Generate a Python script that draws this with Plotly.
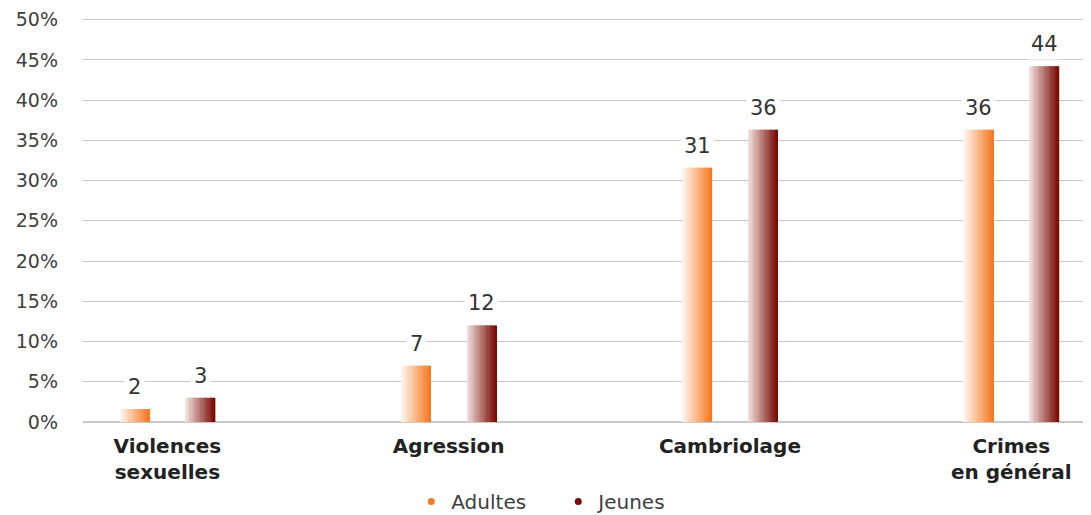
import plotly.graph_objects as go

categories = ["Violences<br>sexuelles", "Agression", "Cambriolage", "Crimes<br>en général"]
adultes = [1.6, 7.0, 31.6, 36.3]
jeunes = [3.0, 12.0, 36.3, 44.2]
adultes_labels = ["2", "7", "31", "36"]
jeunes_labels = ["3", "12", "36", "44"]
series_names = ["Adultes", "Jeunes"]
y_ticks = list(range(0, 51, 5))
y_tick_text = [f"{v}%" for v in y_ticks]

FONT = "DejaVu Sans, Arial, sans-serif"

def lerp(c1, c2, t):
    return "rgb(%d,%d,%d)" % tuple(round(a + (b - a) * t) for a, b in zip(c1, c2))

fig = go.Figure()
N = 24
bar_w = 0.104
px_per_unit = 1007 / 3.58
series = [
    (adultes, adultes_labels, -0.168, (255, 248, 242), (244, 120, 32)),
    (jeunes, jeunes_labels, 0.066, (242, 228, 224), (120, 6, 0)),
]
for vals, labs, off, c_light, c_dark in series:
    for i in range(N):
        t = (i + 0.5) / N
        fig.add_trace(go.Bar(
            x=categories, y=vals, width=bar_w / N + 0.0006,
            offset=off + i * bar_w / N,
            marker=dict(color=lerp(c_light, c_dark, t), line=dict(width=0)),
            showlegend=False, hoverinfo="skip"))
    center_shift = (off + bar_w / 2) * px_per_unit
    for cat, v, lab in zip(categories, vals, labs):
        fig.add_annotation(x=cat, y=v, text=lab, showarrow=False, yanchor="bottom",
                           xshift=center_shift, yshift=6, bgcolor="white",
                           borderpad=3, font=dict(size=21, color="#333333", family=FONT))

for name, col in zip(series_names, ["#f47a20", "#7a0a00"]):
    fig.add_trace(go.Scatter(x=[None], y=[None], mode="markers", name=name,
                             marker=dict(symbol="circle", size=7, color=col)))

fig.update_layout(
    width=1083, height=507,
    margin=dict(l=75, r=1, t=10, b=93, autoexpand=False),
    barmode="overlay",
    paper_bgcolor="white", plot_bgcolor="white",
    font=dict(family=FONT, size=19, color="#404040"),
    showlegend=True,
    legend=dict(orientation="h", xref="paper", x=0.326, xanchor="left",
                yref="paper", y=-0.197, yanchor="middle",
                entrywidth=102, entrywidthmode="pixels",
                font=dict(size=20, color="#404040", family=FONT), tracegroupgap=0),
    xaxis=dict(type="category", range=[-0.3, 3.28], showgrid=False,
               tickfont=dict(size=20, color="#222222", family=FONT, weight="bold"),
               ticks="", showline=False, ticklabelstandoff=10, tickangle=0),
    yaxis=dict(range=[0, 50.2], tickvals=y_ticks, ticktext=y_tick_text,
               showgrid=True, gridcolor="#c8c8c8", gridwidth=1.3,
               zeroline=True, zerolinecolor="#c8c8c8", zerolinewidth=2,
               ticklabelstandoff=24, tickfont=dict(size=19, color="#404040", family=FONT)),
)

fig.write_html("out.html")
